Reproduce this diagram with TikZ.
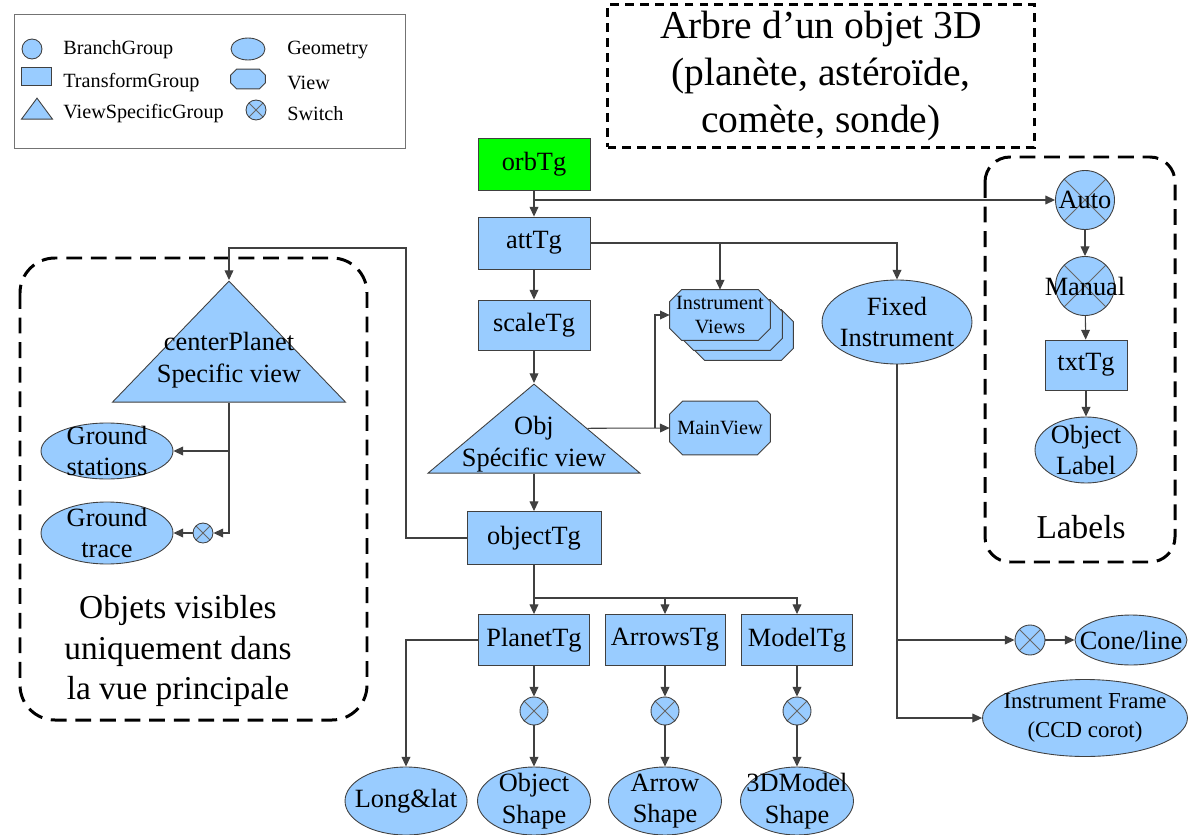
\documentclass[tikz,border=0pt]{standalone}
\usepackage{fontspec}
\setmainfont{Liberation Serif}
\usetikzlibrary{arrows.meta,shapes.geometric,calc,backgrounds}

\definecolor{skyfill}{RGB}{153,204,255}
\definecolor{orbgreen}{RGB}{0,255,0}
\definecolor{edge}{RGB}{64,64,64}

\tikzset{
  base/.style={draw=edge, fill=skyfill, line width=0.5pt},
  tg/.style={base, rectangle, minimum width=2.24cm, minimum height=1.04cm, font=\fontsize{15}{18}\selectfont},
  geom/.style={base, ellipse, inner sep=0pt},
  bg/.style={base, circle, inner sep=0pt},
  view/.style={rectangle, inner sep=0pt},
  vsg/.style={base, isosceles triangle, isosceles triangle stretches, shape border rotate=90, inner sep=0pt, anchor=apex},
  sw/.style={base, circle, inner sep=0pt, path picture={
      \draw[edge!80] (path picture bounding box.south west) -- (path picture bounding box.north east)
                     (path picture bounding box.north west) -- (path picture bounding box.south east);}},
  txt/.style={align=center, font=\fontsize{15}{18}\selectfont},
  smalltxt/.style={align=center, font=\fontsize{11.5}{13.5}\selectfont},
  legtxt/.style={anchor=west, inner sep=0pt, font=\fontsize{11.5}{13}\selectfont},
  bigtxt/.style={align=center, font=\fontsize{19}{23}\selectfont},
  arr/.style={draw=edge, line width=0.6pt, -{Triangle[length=5.5pt,width=5pt]}},
  zone/.style={draw=black, line width=1.7pt, dash pattern=on 9pt off 5pt},
}

% octagon outline of a view node: node name, chamfer in x, chamfer in y
\newcommand{\drawview}[3]{%
  \filldraw[base] ($(#1.north west)+(#2,0)$) -- ($(#1.north east)+(-#2,0)$)
    -- ($(#1.north east)+(0,#3)$) -- ($(#1.south east)+(0,-#3)$)
    -- ($(#1.south east)+(-#2,0)$) -- ($(#1.south west)+(#2,0)$)
    -- ($(#1.south west)+(0,-#3)$) -- ($(#1.north west)+(0,#3)$) -- cycle;}

\begin{document}
\begin{tikzpicture}[x=0.02cm, y=-0.02cm]
  \useasboundingbox (0,0) rectangle (1194,835);

  % legend
  \node[draw=black!55, line width=0.5pt, minimum width=7.82cm, minimum height=2.68cm] (legend) at (209.5,81) {};
  \node[bg, minimum size=0.4cm] (legBg) at (32,49) {};
  \node[legtxt] (legBgTxt) at (63,50) {BranchGroup};
  \node[tg, minimum width=0.6cm, minimum height=0.36cm] (legTg) at (36,76) {};
  \node[legtxt] (legTgTxt) at (63,83) {TransformGroup};
  \node[vsg, minimum width=0.62cm, minimum height=0.42cm] (legVsg) at (37,97) {};
  \node[legtxt] (legVsgTxt) at (63,114) {ViewSpecificGroup};
  \node[geom, minimum width=0.68cm, minimum height=0.44cm] (legGeom) at (248,49) {};
  \node[legtxt] (legGeomTxt) at (287,50) {Geometry};
  \node[view, minimum width=0.68cm, minimum height=0.38cm] (legView) at (248,79) {};
  \node[legtxt] (legViewTxt) at (287,83) {View};
  \node[sw, minimum size=0.4cm] (legSw) at (256,110) {};
  \node[legtxt] (legSwTxt) at (287,114) {Switch};

  % title
  \node[draw=black, line width=1.3pt, dash pattern=on 5pt off 3.5pt, minimum width=8.54cm, minimum height=2.86cm,
        align=center, font=\fontsize{22.5}{27}\selectfont] (title) at (821,76)
        {Arbre d'un objet 3D\\(planète, astéroïde,\\comète, sonde)};

  % dashed zones
  \draw[zone, rounded corners=0.7cm] (20,258) rectangle (367,720);
  \draw[zone, rounded corners=0.5cm] (985,157) rectangle (1175,562);
  \node[bigtxt] (zoneTxt) at (178,651) {Objets visibles\\uniquement dans\\la vue principale};
  \node[bigtxt] (labelsTxt) at (1081,527) {Labels};

  % main chain
  \node[tg, fill=orbgreen] (orbTg) at (534,164) {orbTg};
  \node[tg] (attTg) at (534,243) {attTg};
  \node[tg, minimum height=1.0cm] (scaleTg) at (534,325) {scaleTg};
  \node[vsg, minimum width=4.24cm, minimum height=1.78cm] (objsv) at (534,383) {};
  \node[txt] (objsvTxt) at (534,444) {Obj\\Spécific view};
  \node[tg, minimum width=2.68cm, minimum height=1.06cm] (objectTg) at (534,538) {objectTg};

  % views
  \node[view, minimum width=2.0cm, minimum height=1.0cm] (instrViewsC) at (743,335) {};
  \node[view, minimum width=2.0cm, minimum height=1.0cm] (instrViewsB) at (732,325) {};
  \node[view, minimum width=2.0cm, minimum height=1.0cm, label={[smalltxt]center:Instrument\\Views}] (instrViews) at (720,315) {};
  \node[view, minimum width=2.0cm, minimum height=1.06cm, label={[smalltxt]center:MainView}] (mainView) at (720,428) {};
  \coordinate (viewFork) at (655,428);

  \begin{scope}[on background layer]
    \drawview{instrViewsC}{12}{12}
    \drawview{instrViewsB}{12}{12}
    \drawview{instrViews}{12}{12}
    \drawview{mainView}{13}{13}
    \drawview{legView}{6}{6}
  \end{scope}

  % instrument
  \node[geom, minimum width=3.0cm, minimum height=1.68cm, label={[txt]center:Fixed\\Instrument}] (fixed) at (897,322) {};
  \node[sw, minimum size=0.6cm] (coneSw) at (1030,640) {};
  \node[geom, minimum width=2.24cm, minimum height=1.0cm, label={[txt]center:Cone/line}] (coneLine) at (1131,640) {};
  \node[geom, minimum width=4.1cm, minimum height=1.54cm,
        label={[align=center, font=\fontsize{13}{17}\selectfont]center:Instrument Frame\\(CCD corot)}] (instrFrame) at (1085,718) {};

  % labels
  \node[sw, minimum size=1.18cm, label={[txt]center:Auto}] (auto) at (1085,200) {};
  \node[sw, minimum size=1.18cm, label={[txt]center:Manual}] (manual) at (1085,286) {};
  \node[tg, minimum width=1.64cm, minimum height=1.0cm] (txtTg) at (1086,365) {txtTg};
  \node[geom, minimum width=2.04cm, minimum height=1.32cm, label={[txt]center:Object\\Label}] (objLabel) at (1086,450) {};

  % centerPlanet branch
  \node[vsg, minimum width=4.66cm, minimum height=2.42cm] (cpsv) at (229,280) {};
  \node[txt] (cpsvTxt) at (229,360) {centerPlanet\\Specific view};
  \node[geom, minimum width=2.64cm, minimum height=1.12cm, label={[txt]center:Ground\\stations}] (gStations) at (107,451) {};
  \node[sw, minimum size=0.4cm] (gtSw) at (203,533) {};
  \node[geom, minimum width=2.64cm, minimum height=1.24cm, label={[txt]center:Ground\\trace}] (gTrace) at (107,533) {};
  \coordinate (loop) at (406,248);

  % shapes
  \node[tg, minimum width=2.22cm, minimum height=1.02cm] (planetTg) at (534,640) {PlanetTg};
  \node[tg, minimum width=2.22cm, minimum height=1.02cm] (arrowsTg) at (665,640) {ArrowsTg};
  \node[tg, minimum width=2.22cm, minimum height=1.02cm] (modelTg) at (797,640) {ModelTg};
  \node[sw, minimum size=0.56cm] (planetSw) at (534,711) {};
  \node[sw, minimum size=0.56cm] (arrowsSw) at (665,711) {};
  \node[sw, minimum size=0.56cm] (modelSw) at (797,711) {};
  \node[geom, minimum width=2.44cm, minimum height=1.36cm, label={[txt]center:Long\&lat}] (longLat) at (406,801) {};
  \node[geom, minimum width=2.26cm, minimum height=1.36cm, label={[txt]center:Object\\Shape}] (objShape) at (534,801) {};
  \node[geom, minimum width=2.26cm, minimum height=1.36cm, label={[txt]center:Arrow\\Shape}] (arrowShape) at (665,801) {};
  \node[geom, minimum width=2.26cm, minimum height=1.36cm, label={[txt]center:3DModel\\Shape}] (modelShape) at (797,801) {};
  \coordinate (fork) at (534,598);

  \draw[arr] (orbTg) -- (attTg);
  \draw[arr] (orbTg.south |- auto.west) -- (auto.west);
  \draw[arr] (attTg) -- (scaleTg);
  \draw[arr] (attTg.east) -| (fixed.north);
  \draw[arr] (attTg.east -| instrViews.north) -- (instrViews.north);
  \draw[arr] (scaleTg.south) -- (objsv.apex);
  \draw[arr] (objsv.right side) -- (mainView.west);
  \draw[arr] (viewFork) |- (instrViews.west);
  \draw[arr] (objsv.lower side) -- (objectTg.north);

  \draw[arr] (objectTg.west) -| (loop) -| (cpsv.apex);
  \draw[arr] (cpsv.lower side) |- (gtSw.east);
  \draw[arr] (cpsv.lower side |- gStations.east) -- (gStations.east);
  \draw[arr] (gtSw) -- (gTrace);

  \draw[arr] (objectTg.south) -- (planetTg.north);
  \draw[arr] (fork) -| (arrowsTg.north);
  \draw[arr] (fork) -| (modelTg.north);
  \draw[arr] (planetTg) -- (planetSw);
  \draw[arr] (arrowsTg) -- (arrowsSw);
  \draw[arr] (modelTg) -- (modelSw);
  \draw[arr] (planetSw) -- (objShape);
  \draw[arr] (arrowsSw) -- (arrowShape);
  \draw[arr] (modelSw) -- (modelShape);
  \draw[arr] (planetTg.west) -| (longLat.north);

  \draw[arr] (fixed.south) |- (instrFrame.west);
  \draw[arr] (fixed.south |- coneSw) -- (coneSw);
  \draw[arr] (coneSw) -- (coneLine);

  \draw[arr] (auto) -- (manual);
  \draw[arr] (manual) -- (txtTg);
  \draw[arr] (txtTg) -- (objLabel);
\end{tikzpicture}
\end{document}
